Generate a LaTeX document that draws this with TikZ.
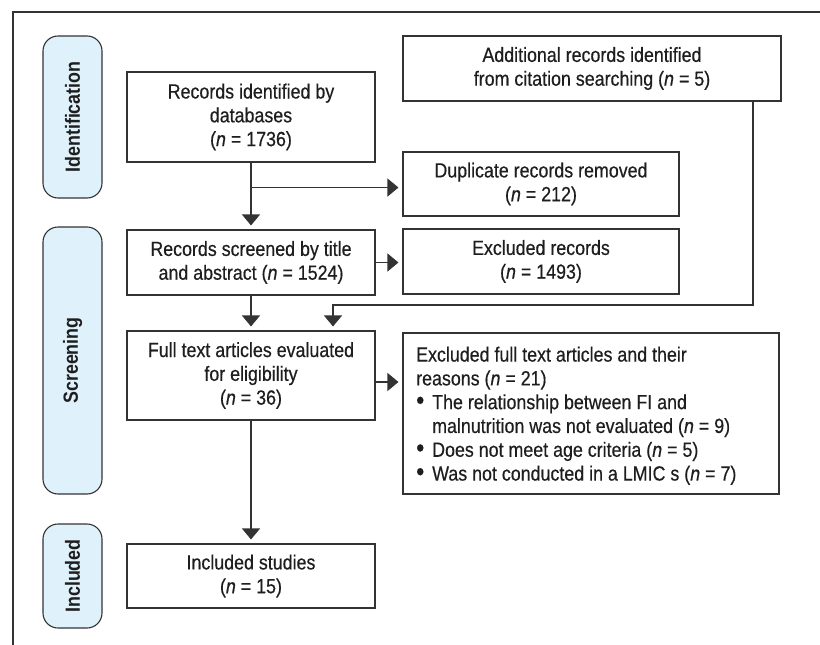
\documentclass[tikz,border=0pt]{standalone}
\usepackage{fontspec}
\setmainfont{Liberation Sans}[FakeStretch=0.87,FakeBold=0.45]
\newfontfamily\boldlabel{Liberation Sans Bold}[FakeStretch=0.87]
\usetikzlibrary{arrows.meta,calc}
\definecolor{pill}{HTML}{DFF1FA}
\definecolor{edge}{HTML}{333333}
\definecolor{ink}{HTML}{1E1E1E}
\newcommand{\bul}{\makebox[16pt][l]{\scalebox{1.3}{\textbullet}}}
\begin{document}
\begin{tikzpicture}[x=1pt,y=-1pt,
  every node/.style={font=\fontsize{20.5pt}{23.8pt}\selectfont, text=ink},
  box/.style={draw=edge, line width=1.1pt, rectangle, inner sep=0pt, align=center},
  stage/.style={draw=edge, line width=1.1pt, fill=pill, rounded corners=15pt, inner sep=0pt,
     minimum width=59pt},
  stagelabel/.style={rotate=90, font=\fontsize{20.5pt}{22pt}\boldlabel},
  conn/.style={draw=edge, line width=1.1pt},
  arr/.style={conn, -{Triangle[width=18pt,length=11pt]}, shorten >=4pt}]
\useasboundingbox (0,0) rectangle (820,645);
% frame
\draw[line width=2pt, draw=edge] (13,645) -- (13,12) -- (820,12);
% stage labels
\node[stage, minimum height=162pt] (sid) at (72.5,117) {};
\node[stagelabel] (lid) at (sid.center) {Identification};
\node[stage, minimum height=267pt] (sscr) at (72.5,360.5) {};
\node[stagelabel] (lscr) at (sscr.center) {Screening};
\node[stage, minimum height=104pt] (sinc) at (72.5,576) {};
\node[stagelabel] (linc) at (sinc.center) {Included};
% boxes
\node[box, minimum width=248pt, minimum height=90pt] (db) at (251,117)
  {Records identified by\\ databases\\ (\textit{n} = 1736)};
\node[box, minimum width=248pt, minimum height=65pt] (scr) at (251,262.5)
  {Records screened by title\\ and abstract (\textit{n} = 1524)};
\node[box, minimum width=248pt, minimum height=89pt] (full) at (251,375.5)
  {Full text articles evaluated\\ for eligibility\\ (\textit{n} = 36)};
\node[box, minimum width=248pt, minimum height=64pt] (inc) at (251,576)
  {Included studies\\ (\textit{n} = 15)};
\node[box, minimum width=378pt, minimum height=65pt] (add) at (592,68.5)
  {Additional records identified\\ from citation searching (\textit{n} = 5)};
\node[box, minimum width=276pt, minimum height=64pt] (dup) at (541,184)
  {Duplicate records removed\\ (\textit{n} = 212)};
\node[box, minimum width=276pt, minimum height=65pt] (exr) at (541,261.5)
  {Excluded records\\ (\textit{n} = 1493)};
\node[box, minimum width=376pt, minimum height=161pt] (exf) at (591,413.5) {};
\node[anchor=north west, align=left, inner sep=0pt] (exft) at (416,346.5)
  {Excluded full text articles and their\\
   reasons (\textit{n} = 21)\\
   \bul The relationship between FI and\\
   \hspace*{16pt}malnutrition was not evaluated (\textit{n} = 9)\\
   \bul Does not meet age criteria (\textit{n} = 5)\\
   \bul Was not conducted in a LMIC s (\textit{n} = 7)};
% connectors
\coordinate (br) at ($(db.south)+(0,25)$);
\draw[arr] (db.south) -- (scr.north);
\draw[arr] (br) -- (br -| dup.west);
\draw[arr] (scr.east) -- (scr.east -| exr.west);
\draw[arr] (scr.south) -- (full.north);
\coordinate (a1) at (753,101);
\coordinate (a2) at (753,305);
\coordinate (a3) at (333,305);
\draw[arr] (a1) -- (a2) -- (a3) -- (a3 |- full.north);
\coordinate (fe) at ([yshift=-6.5pt]full.east);
\draw[arr] (fe) -- (fe -| exf.west);
\draw[arr] (full.south) -- (inc.north);
\end{tikzpicture}
\end{document}
